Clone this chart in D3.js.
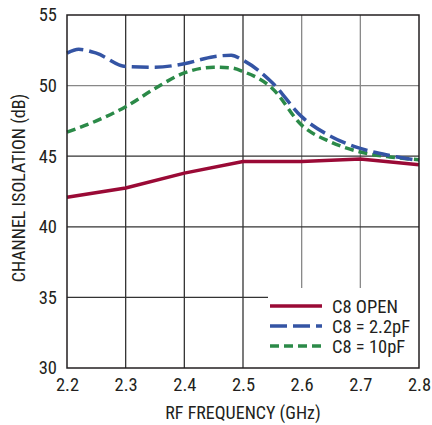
<!DOCTYPE html>
<html><head><meta charset="utf-8">
<script src="https://cdn.jsdelivr.net/npm/d3@7"></script>
<style>body{margin:0;background:#fff}svg{display:block}text{font-family:"Liberation Sans Narrow","Roboto Condensed","Liberation Sans",Arial,sans-serif;fill:#231f20}</style>
</head><body><svg id="c" width="432" height="425"></svg>
<script>
const xTicks = [2.2,2.3,2.4,2.5,2.6,2.7,2.8];
const yTicks = [30,35,40,45,50,55];
const openX = [2.2,2.3,2.4,2.5,2.6,2.7,2.8];
const openY = [42.1,42.75,43.8,44.62,44.62,44.8,44.4];
const c22X = [2.2,2.22,2.25,2.3,2.35,2.4,2.45,2.48,2.5,2.55,2.6,2.65,2.7,2.75,2.8];
const c22Y = [52.3,52.57,52.3,51.35,51.3,51.55,52.05,52.15,51.8,50.2,47.8,46.4,45.55,45.05,44.7];
const c10X = [2.2,2.25,2.3,2.35,2.4,2.45,2.48,2.5,2.55,2.6,2.65,2.7,2.75,2.8];
const c10Y = [46.7,47.5,48.5,49.8,50.9,51.3,51.25,51.0,49.8,47.2,46.0,45.3,44.95,44.75];
const legendLabels = ["C8 OPEN","C8 = 2.2pF","C8 = 10pF"];

const svg = d3.select("#c");
const L=67,R=419,T=15,B=368;
const x = d3.scaleLinear().domain([2.2,2.8]).range([L,R]);
const y = d3.scaleLinear().domain([30,55]).range([B,T]);

svg.append("g").selectAll("line").data(xTicks.slice(1,-1)).join("line")
  .attr("x1",d=>x(d)).attr("x2",d=>x(d)).attr("y1",T).attr("y2",B)
  .attr("stroke",d=>d>=2.6?"#888":"#333").attr("stroke-width",1.3);
svg.append("g").selectAll("line").data(yTicks.slice(1,-1)).join("line")
  .attr("y1",d=>y(d)).attr("y2",d=>y(d)).attr("x1",L).attr("x2",R)
  .attr("stroke",d=>d===50?"#888":"#333").attr("stroke-width",1.3);

const line = d3.line().x(d=>x(d[0])).y(d=>y(d[1]));
const cline = d3.line().x(d=>x(d[0])).y(d=>y(d[1])).curve(d3.curveMonotoneX);
const zip=(a,b)=>a.map((v,i)=>[v,b[i]]);

const cols=["#9a0a36","#3454a4","#2b8a48"];
const dashes=[null,"17,6","9,5"];

svg.append("path").attr("d",cline(zip(c10X,c10Y))).attr("fill","none").attr("stroke",cols[2]).attr("stroke-width",3.5).attr("stroke-dasharray",dashes[2]);
svg.append("path").attr("d",cline(zip(c22X,c22Y))).attr("fill","none").attr("stroke",cols[1]).attr("stroke-width",3.5).attr("stroke-dasharray",dashes[1]);
svg.append("path").attr("d",line(zip(openX,openY))).attr("fill","none").attr("stroke",cols[0]).attr("stroke-width",3.5);

svg.append("rect").attr("x",268).attr("y",288).attr("width",R-268).attr("height",B-288).attr("fill","#fff");
const lg = svg.append("g");
legendLabels.forEach((t,i)=>{
  const yy = 306 + i*20;
  lg.append("line").attr("x1",270).attr("x2",322).attr("y1",yy).attr("y2",yy)
    .attr("stroke",cols[i]).attr("stroke-width",3.5).attr("stroke-dasharray",dashes[i]);
  lg.append("text").attr("x",332).attr("y",yy).attr("dy","0.36em").attr("font-size",18.5).text(t);
});

svg.append("rect").attr("x",L).attr("y",T).attr("width",R-L).attr("height",B-T).attr("fill","none").attr("stroke","#231f20").attr("stroke-width",1.5);

const xa = svg.append("g").attr("transform",`translate(0,${B})`).call(d3.axisBottom(x).tickValues(xTicks).tickSize(0).tickPadding(10).tickFormat(d3.format(".1f")));
xa.select(".domain").remove();
xa.selectAll("text").attr("font-size",18.5).attr("font-family",null).attr("fill","#231f20");
const ya = svg.append("g").attr("transform",`translate(${L},0)`).call(d3.axisLeft(y).tickValues(yTicks).tickSize(0).tickPadding(10).tickFormat(d3.format("d")));
ya.select(".domain").remove();
ya.selectAll("text").attr("font-size",18.5).attr("font-family",null).attr("fill","#231f20");

svg.append("text").attr("x",243).attr("y",419).attr("text-anchor","middle").attr("font-size",18).text("RF FREQUENCY (GHz)");
svg.append("text").attr("transform",`translate(25,188) rotate(-90)`).attr("text-anchor","middle").attr("font-size",18).text("CHANNEL ISOLATION (dB)");
</script></body></html>
